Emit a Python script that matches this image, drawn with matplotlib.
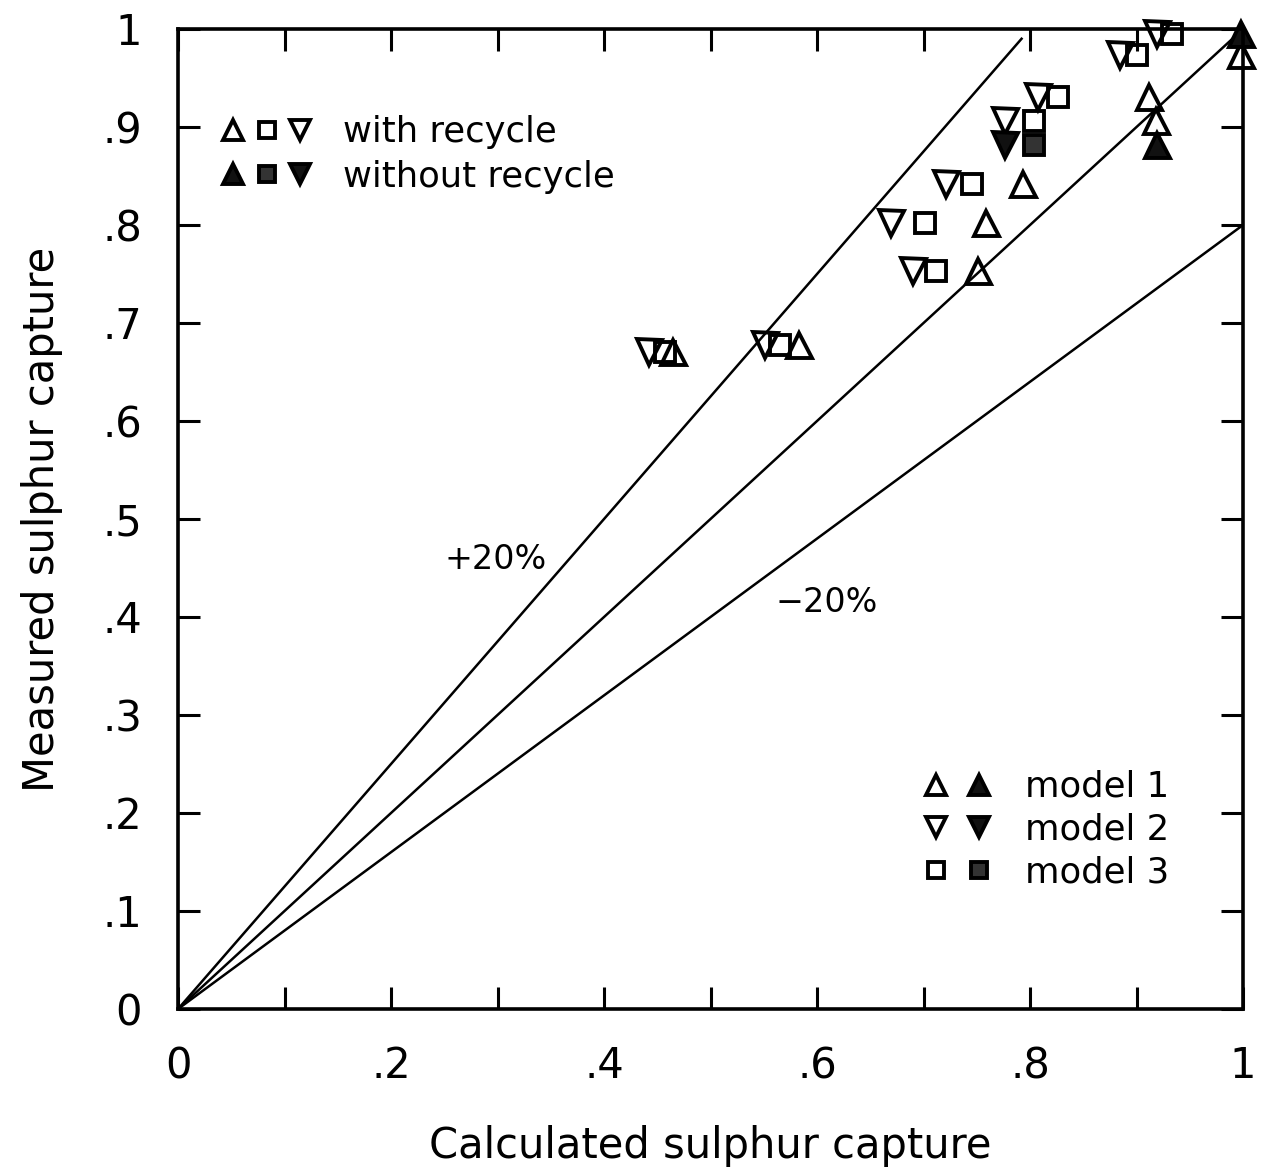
import numpy as np
import matplotlib.pyplot as plt
from matplotlib.lines import Line2D
from matplotlib.legend_handler import HandlerTuple

# measured sulphur capture, one value per run
measured = [0.670, 0.677, 0.753, 0.802, 0.842, 0.906, 0.931, 0.973]
# calculated sulphur capture for the runs with recycle
calc_m1 = [0.465, 0.583, 0.751, 0.759, 0.793, 0.918, 0.912, 0.998]
calc_m2 = [0.442, 0.551, 0.690, 0.669, 0.721, 0.776, 0.807, 0.884]
calc_m3 = [0.457, 0.565, 0.712, 0.701, 0.745, 0.804, 0.826, 0.900]

# runs without recycle (filled symbols)
measured_nr = [0.882, 0.995]
calc_m1_nr = [0.919, 0.998]
# top pair drawn open in the original
measured_top = [0.995]
calc_m2_top = [0.919]
calc_m3_top = [0.933]
measured_nr23 = [0.882]
calc_m2_nr = [0.776]
calc_m3_nr = [0.804]

# deviation lines: factor and where each line stops
factors = [1.25, 1.0, 0.8]
x_ends = [0.792, 1.0, 1.0]

xticks = np.arange(0, 1.01, 0.1)
xticklabels = ['0', '', '.2', '', '.4', '', '.6', '', '.8', '', '1']
yticks = np.arange(0, 1.01, 0.1)
yticklabels = ['0', '.1', '.2', '.3', '.4', '.5', '.6', '.7', '.8', '.9', '1']

plt.rcParams['font.family'] = ['DejaVu Sans']

fig = plt.figure(figsize=(12.61, 11.72), dpi=100)
ax = fig.add_axes([0.1412, 0.1391, 0.8446, 0.8362])

for f, xe in zip(factors, x_ends):
    ax.plot([0, xe], [0, f * xe], color='black', lw=1.8)

tri = dict(marker='^', ms=18, mew=2.8, ls='none', color='black', clip_on=False)
dtri = dict(marker='v', ms=18, mew=2.8, ls='none', color='black', clip_on=False)
sq = dict(marker='s', ms=14, mew=2.8, ls='none', color='black', clip_on=False)

ax.plot(calc_m1, measured, mfc='none', **tri)
ax.plot(calc_m2, measured, mfc='none', **dtri)
ax.plot(calc_m3, measured, mfc='none', **sq)
ax.plot(calc_m2_top, measured_top, mfc='none', **dtri)
ax.plot(calc_m3_top, measured_top, mfc='none', **sq)
ax.plot(calc_m1_nr, measured_nr, mfc='#111111', **tri)
ax.plot(calc_m2_nr, measured_nr23, mfc='#111111', **dtri)
ax.plot(calc_m3_nr, measured_nr23, mfc='#333333', **sq)

ax.text(0.298, 0.459, '+20%', fontsize=24, ha='center', va='center')
ax.text(0.609, 0.415, '\u221220%', fontsize=24, ha='center', va='center')

ax.set_xlim(0, 1)
ax.set_ylim(0, 1)
ax.set_xticks(xticks)
ax.set_xticklabels(xticklabels)
ax.set_yticks(yticks)
ax.set_yticklabels(yticklabels)
ax.tick_params(direction='in', length=16, width=2.2, labelsize=30, pad=26,
               top=True, right=True)
for s in ax.spines.values():
    s.set_linewidth(2.6)

ax.set_xlabel('Calculated sulphur capture', fontsize=30)
ax.set_ylabel('Measured sulphur capture', fontsize=30)
ax.xaxis.set_label_coords(0.5, -0.118)
ax.yaxis.set_label_coords(-0.108, 0.5)

# legend handles
def h(style, fill, size):
    kw = dict(style)
    kw.pop('clip_on')
    kw['ms'] = size
    return Line2D([], [], mfc=fill, **kw)

open_set = (h(tri, 'none', 15), h(sq, 'none', 12), h(dtri, 'none', 15))
fill_set = (h(tri, '#111111', 15), h(sq, '#333333', 12), h(dtri, '#111111', 15))
leg1 = ax.legend([open_set, fill_set], ['with recycle', 'without recycle'],
                 handler_map={tuple: HandlerTuple(ndivide=None, pad=0.35)},
                 loc='upper left', bbox_to_anchor=(0.025, 0.93), frameon=False,
                 fontsize=25.5, numpoints=1, handlelength=2.5, handletextpad=0.9,
                 labelspacing=0.3, borderpad=0)
ax.add_artist(leg1)

m1 = (h(tri, 'none', 15), h(tri, '#111111', 15))
m2 = (h(dtri, 'none', 15), h(dtri, '#111111', 15))
m3 = (h(sq, 'none', 12), h(sq, '#333333', 12))
ax.legend([m1, m2, m3], ['model 1', 'model 2', 'model 3'],
          handler_map={tuple: HandlerTuple(ndivide=None, pad=0.4)},
          loc='upper left', bbox_to_anchor=(0.682, 0.262), frameon=False,
          fontsize=25.5, numpoints=1, handlelength=2.0, handletextpad=0.9,
          labelspacing=0.25, borderpad=0)

fig.savefig('out.png', dpi=100)
